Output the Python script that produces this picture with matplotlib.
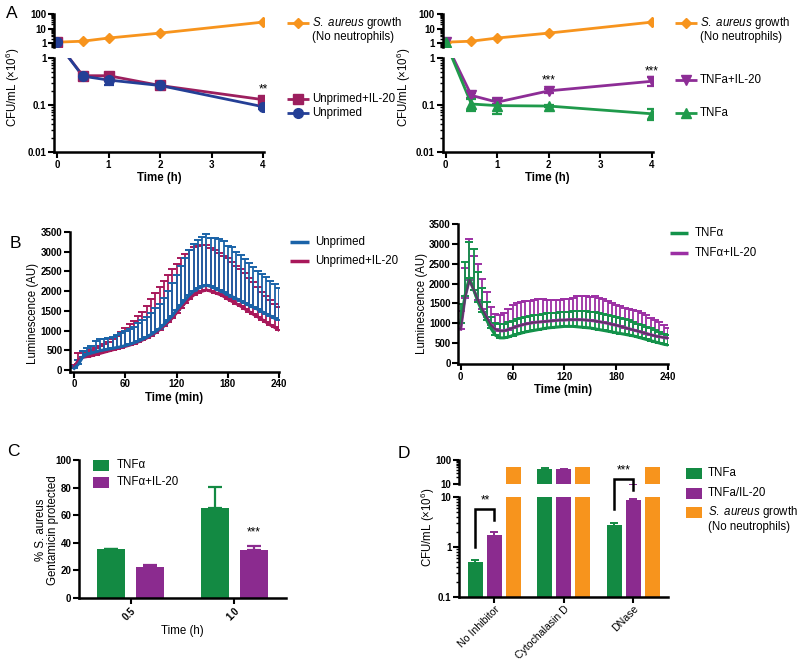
import numpy as np
import matplotlib
matplotlib.use('Agg')
import matplotlib.pyplot as plt
from matplotlib.lines import Line2D
from matplotlib.patches import Rectangle
from matplotlib.ticker import LogLocator, NullFormatter

plt.rcParams['font.family'] = ['Liberation Sans', 'DejaVu Sans']
plt.rcParams['mathtext.fontset'] = 'custom'
plt.rcParams['mathtext.rm'] = 'Liberation Sans'
plt.rcParams['mathtext.it'] = 'Liberation Sans:italic'
plt.rcParams['mathtext.bf'] = 'Liberation Sans:bold'

# ---------------- DATA ----------------
# Panel A (CFU/mL x10^6)
time_h = [0, 0.5, 1, 2, 4]
growth = [1.2, 1.4, 2.3, 5.0, 28.0]
unprimed_il20 = [1.2, 0.42, 0.42, 0.26, 0.13]
unprimed_il20_err = [0, 0.03, 0.05, 0.04, 0.02]
unprimed = [1.2, 0.41, 0.34, 0.26, 0.092]
unprimed_err = [0, 0.03, 0.08, 0.03, 0.008]
tnfa_il20 = [1.2, 0.16, 0.115, 0.20, 0.32]
tnfa_il20_err = [0, 0.02, 0.012, 0.02, 0.065]
tnfa = [1.2, 0.105, 0.097, 0.095, 0.065]
tnfa_err = [0, 0.032, 0.034, 0.006, 0.018]

# Panel B (luminescence, AU)
t_min = [0, 5, 10, 15, 20, 25, 30, 35, 40, 45, 50, 55, 60, 65, 70, 75, 80, 85,
         90, 95, 100, 105, 110, 115, 120, 125, 130, 135, 140, 145, 150, 155,
         160, 165, 170, 175, 180, 185, 190, 195, 200, 205, 210, 215, 220, 225,
         230, 235, 240]
lum_unprimed = [40, 150, 330, 400, 430, 460, 490, 510, 530, 550,
                570, 590, 620, 650, 690, 730, 780, 830, 900, 970,
                1050, 1150, 1260, 1380, 1520, 1650, 1780, 1900, 2000, 2070,
                2120, 2150, 2120, 2070, 2020, 1970, 1910, 1860, 1810, 1750,
                1700, 1640, 1590, 1540, 1480, 1420, 1370, 1310, 1280]
lum_unprimed_up = [100, 250, 480, 560, 620, 740, 790, 790, 810, 840,
                   880, 930, 980, 1040, 1100, 1180, 1260, 1350, 1450, 1560,
                   1680, 1830, 2000, 2200, 2400, 2640, 2850, 3050, 3200, 3300,
                   3380, 3450, 3360, 3340, 3320, 3280, 3150, 3120, 3000, 2920,
                   2820, 2720, 2620, 2520, 2440, 2350, 2260, 2170, 2080]
lum_unprimed_il20 = [80, 250, 320, 340, 360, 390, 420, 450, 480, 510,
                     540, 570, 600, 630, 670, 710, 760, 810, 870, 940,
                     1020, 1110, 1210, 1320, 1450, 1580, 1700, 1810, 1900, 1960,
                     2000, 2030, 2000, 1960, 1920, 1870, 1800, 1740, 1680, 1620,
                     1550, 1480, 1410, 1350, 1280, 1210, 1140, 1080, 1010]
lum_unprimed_il20_up = [120, 420, 470, 450, 500, 560, 620, 670, 720, 780,
                        860, 960, 1070, 1160, 1250, 1370, 1480, 1620, 1800, 1950,
                        2100, 2250, 2400, 2550, 2700, 2850, 2950, 3050, 3120, 3150,
                        3170, 3180, 3100, 3050, 2980, 2900, 2840, 2750, 2650, 2550,
                        2450, 2330, 2220, 2100, 1980, 1870, 1770, 1680, 1600]
lum_tnfa = [1000, 1700, 2150, 1850, 1540, 1290, 1080, 870, 700, 630,
            630, 650, 690, 720, 750, 780, 800, 820, 840, 860,
            880, 890, 900, 910, 920, 920, 920, 910, 900, 890,
            880, 860, 840, 820, 800, 780, 760, 740, 720, 700,
            680, 650, 620, 590, 560, 530, 500, 470, 450]
lum_tnfa_up = [1480, 2550, 3050, 2870, 2300, 1880, 1540, 1170, 1000, 980,
               990, 1020, 1060, 1100, 1130, 1160, 1180, 1200, 1220, 1240,
               1250, 1260, 1270, 1280, 1290, 1290, 1300, 1300, 1300, 1300,
               1290, 1280, 1260, 1240, 1220, 1190, 1160, 1130, 1100, 1070,
               1030, 990, 950, 910, 870, 830, 790, 740, 700]
lum_tnfa_il20 = [850, 1650, 2100, 1850, 1580, 1350, 1150, 950, 850, 810,
                 810, 840, 880, 920, 950, 980, 1000, 1020, 1030, 1040,
                 1050, 1060, 1070, 1080, 1080, 1090, 1090, 1090, 1090, 1080,
                 1070, 1060, 1040, 1020, 1000, 970, 950, 920, 890, 860,
                 830, 800, 770, 740, 710, 680, 660, 640, 620]
lum_tnfa_il20_up = [1300, 2400, 3120, 2700, 2500, 2110, 1800, 1400, 1230, 1200,
                    1250, 1350, 1450, 1500, 1530, 1550, 1560, 1580, 1600, 1600,
                    1590, 1580, 1580, 1590, 1600, 1620, 1640, 1680, 1690, 1680,
                    1670, 1680, 1640, 1600, 1560, 1510, 1470, 1430, 1390, 1360,
                    1330, 1300, 1250, 1200, 1140, 1080, 1020, 950, 870]

# Panel C (% gentamicin protected)
c_times = ['0.5', '1.0']
c_tnfa = [35.1, 64.9]
c_tnfa_err = [0.6, 15.4]
c_tnfa_il20 = [22.4, 34.6]
c_tnfa_il20_err = [1.3, 2.9]

# Panel D (CFU/mL x10^6)
d_groups = ['No Inhibitor', 'Cytochalasin D', 'DNase']
d_tnfa = [0.49, 42.5, 2.75]
d_tnfa_err = [0.05, 3.0, 0.3]
d_tnfa_il20 = [1.75, 41.5, 8.7]
d_tnfa_il20_err = [0.2, 1.0, 0.3]
d_growth = [53, 53, 53]

# ---------------- STYLE ----------------
ORANGE = '#f7941d'
CRIMSON = '#9c1f5e'
NAVY = '#243f96'
PURPLE = '#8d2d96'
GREEN = '#1f9a4b'
B_BLUE = '#1a63a8'
B_CRIMSON = '#a8185a'
B_GREEN = '#13924a'
B_PURPLE = '#9c2fa4'
BAR_GREEN = '#138a43'
BAR_PURPLE = '#8b2b8f'

W, H = 800, 664
fig = plt.figure(figsize=(8, 6.64), dpi=100)


def px_axes(l, t, r, b):
    return fig.add_axes([l / W, 1 - b / H, (r - l) / W, (b - t) / H])


def fx(x):
    return x / W


def fy(y):
    return 1 - y / H


def style(ax, show_x=True):
    for s in ['top', 'right']:
        ax.spines[s].set_visible(False)
    ax.spines['left'].set_linewidth(1.8)
    ax.spines['bottom'].set_linewidth(1.8)
    if not show_x:
        ax.spines['bottom'].set_visible(False)
        ax.tick_params(axis='x', which='both', bottom=False, labelbottom=False)
    ax.tick_params(which='major', direction='out', width=1.5, length=4, pad=1.5)
    ax.tick_params(which='minor', direction='out', width=1.0, length=2.2)


def log_minor(ax):
    ax.yaxis.set_minor_locator(LogLocator(base=10, subs=np.arange(2, 10)))
    ax.yaxis.set_minor_formatter(NullFormatter())


def bridge(ax_from, ax_to, x, y):
    d = ax_from.transData.transform((x, y))
    return ax_to.transData.inverted().transform(d)[1]


def leg_line(x1, x2, y, color, marker=None, ms=6, lw=2):
    fig.add_artist(Line2D([fx(x1), fx(x2)], [fy(y), fy(y)], transform=fig.transFigure,
                          color=color, lw=lw, solid_capstyle='butt'))
    if marker:
        fig.add_artist(Line2D([fx((x1 + x2) / 2)], [fy(y)], transform=fig.transFigure,
                              color=color, marker=marker, ms=ms, ls='none'))


def leg_patch(x1, x2, y, h, color):
    fig.add_artist(Rectangle((fx(x1), fy(y + h / 2)), (x2 - x1) / W, h / H,
                             transform=fig.transFigure, color=color, lw=0))


TICK_FS = 7
LAB_FS = 8.3
LEG_FS = 8.3
STAR_FS = 8.5
SAUREUS = r'$\it{S.\ aureus}$ growth'


# ---------------- Panel A ----------------
def panel_A(l, r, series, stars):
    ax_t = px_axes(l, 14, r, 46.6)
    ax_b = px_axes(l, 58, r, 152)
    for ax in (ax_t, ax_b):
        ax.set_yscale('log')
        ax.set_xlim(-0.06, 4.02)
        log_minor(ax)
    style(ax_t, show_x=False)
    style(ax_b)
    ax_t.set_ylim(0.6, 100)
    ax_b.set_ylim(0.01, 1)
    ax_t.set_yticks([1, 10, 100], ['1', '10', '100'], fontweight='bold', fontsize=TICK_FS)
    ax_b.set_yticks([0.01, 0.1, 1], ['0.01', '0.1', '1'], fontweight='bold', fontsize=TICK_FS)
    ax_b.set_xticks([0, 1, 2, 3, 4], ['0', '1', '2', '3', '4'], fontweight='bold', fontsize=TICK_FS)
    ax_b.set_xlabel('Time (h)', fontweight='bold', fontsize=LAB_FS, labelpad=2)

    ax_t.plot(time_h, growth, '-', color=ORANGE, lw=2, marker='D', ms=5)
    for vals, err, col, mk, ms in series:
        # only the starting point lies in the upper (broken) segment
        ax_t.plot(time_h[:1], vals[:1], ls='none', marker=mk, ms=ms, color=col)
        yl = list(vals)
        yl[0] = bridge(ax_t, ax_b, time_h[0], vals[0])
        ax_b.plot(time_h, yl, '-', color=col, lw=2)
        ax_b.errorbar(time_h[1:], vals[1:], yerr=err[1:], fmt=mk, ms=ms, color=col,
                      capsize=3.5, elinewidth=1.6, capthick=1.6)
    for xi, yi, txt in stars:
        ax_b.text(xi, yi, txt, ha='center', va='center', fontsize=STAR_FS)
    return ax_t, ax_b


panel_A(54, 264,
        [(unprimed_il20, unprimed_il20_err, CRIMSON, 's', 7),
         (unprimed, unprimed_err, NAVY, 'o', 7)],
        [(4, (unprimed_il20[4] + unprimed_il20_err[4]) * 1.45, '**')])
panel_A(442.5, 653,
        [(tnfa_il20, tnfa_il20_err, PURPLE, 'v', 7.5),
         (tnfa, tnfa_err, GREEN, '^', 7.5)],
        [(2, (tnfa_il20[3] + tnfa_il20_err[3]) * 1.5, '***'),
         (4, (tnfa_il20[4] + tnfa_il20_err[4]) * 1.35, '***')])

ylab_A = 'CFU/mL (×10$^{6}$)'
fig.text(fx(13), fy(87), ylab_A, rotation=90, ha='center', va='center', fontsize=LAB_FS)
fig.text(fx(404), fy(87), ylab_A, rotation=90, ha='center', va='center', fontsize=LAB_FS)

# legends A
leg_line(287, 309, 23, ORANGE, 'D', 5)
fig.text(fx(312), fy(23), SAUREUS, va='center', fontsize=LEG_FS)
fig.text(fx(312), fy(37), '(No neutrophils)', va='center', fontsize=LEG_FS)
leg_line(287, 309, 99, CRIMSON, 's', 7)
fig.text(fx(312), fy(99), 'Unprimed+IL-20', va='center', fontsize=LEG_FS)
leg_line(287, 309, 113, NAVY, 'o', 7)
fig.text(fx(312), fy(113), 'Unprimed', va='center', fontsize=LEG_FS)

leg_line(675, 697, 23, ORANGE, 'D', 5)
fig.text(fx(700), fy(23), SAUREUS, va='center', fontsize=LEG_FS)
fig.text(fx(700), fy(37), '(No neutrophils)', va='center', fontsize=LEG_FS)
leg_line(675, 697, 80, PURPLE, 'v', 7.5)
fig.text(fx(700), fy(80), 'TNFa+IL-20', va='center', fontsize=LEG_FS)
leg_line(675, 697, 113, GREEN, '^', 7.5)
fig.text(fx(700), fy(113), 'TNFa', va='center', fontsize=LEG_FS)


# ---------------- Panel B ----------------
def panel_B(l, t, r, b, xlo, ylo, series, ylab_x, ylab_y):
    ax = px_axes(l, t, r, b)
    style(ax)
    ax.set_xlim(xlo, 240)
    ax.set_ylim(ylo, 3500)
    tm = np.array(t_min)
    for mean, up, col in series:
        mean = np.array(mean)
        up = np.array(up)
        ax.errorbar(tm, mean, yerr=[np.zeros_like(mean), up - mean], color=col, lw=2.2,
                    elinewidth=1.3, capsize=2.6, capthick=1.4)
    ax.set_xticks([0, 60, 120, 180, 240], ['0', '60', '120', '180', '240'],
                  fontweight='bold', fontsize=TICK_FS)
    ax.set_yticks(range(0, 3501, 500), [str(v) for v in range(0, 3501, 500)],
                  fontweight='bold', fontsize=TICK_FS)
    ax.set_xlabel('Time (min)', fontweight='bold', fontsize=LAB_FS, labelpad=2)
    fig.text(fx(ylab_x), fy(ylab_y), 'Luminescence (AU)', rotation=90, ha='center',
             va='center', fontsize=LAB_FS)
    return ax


panel_B(70, 232, 279, 371.5, -4.9, -38,
        [(lum_unprimed_il20, lum_unprimed_il20_up, B_CRIMSON),
         (lum_unprimed, lum_unprimed_up, B_BLUE)], 33, 313)
axB2 = panel_B(458.3, 224.3, 668, 364, -2.8, -30,
               [(lum_tnfa_il20, lum_tnfa_il20_up, B_PURPLE),
                (lum_tnfa, lum_tnfa_up, B_GREEN)], 422, 303)
axB2.plot(t_min, lum_tnfa_il20, color='#5e3566', lw=1.3, zorder=5)

leg_line(290, 309, 242, B_BLUE, lw=2.5)
fig.text(fx(315), fy(242), 'Unprimed', va='center', fontsize=LEG_FS)
leg_line(290, 309, 261, B_CRIMSON, lw=2.5)
fig.text(fx(315), fy(261), 'Unprimed+IL-20', va='center', fontsize=LEG_FS)
leg_line(670, 688, 233, B_GREEN, lw=2.5)
fig.text(fx(695), fy(233), 'TNFα', va='center', fontsize=LEG_FS)
leg_line(670, 688, 253, B_PURPLE, lw=2.5)
fig.text(fx(695), fy(253), 'TNFα+IL-20', va='center', fontsize=LEG_FS)

# ---------------- Panel C ----------------
axC = px_axes(79, 460, 286, 597.7)
style(axC)
axC.set_xlim(-0.5, 1.5)
axC.set_ylim(0, 100)
xc = np.arange(len(c_times))
axC.bar(xc - 0.19, c_tnfa, 0.27, color=BAR_GREEN,
        yerr=[np.zeros(2), c_tnfa_err], error_kw=dict(ecolor=BAR_GREEN, elinewidth=1.6,
                                                      capsize=5, capthick=1.6))
axC.bar(xc + 0.19, c_tnfa_il20, 0.27, color=BAR_PURPLE,
        yerr=[np.zeros(2), c_tnfa_il20_err], error_kw=dict(ecolor=BAR_PURPLE, elinewidth=1.6,
                                                           capsize=5, capthick=1.6))
axC.text(1 + 0.19, c_tnfa_il20[1] + c_tnfa_il20_err[1] + 10, '***', ha='center',
         va='center', fontsize=STAR_FS)
axC.set_xticks(xc, c_times, fontweight='bold', fontsize=TICK_FS, rotation=45,
               ha='right', rotation_mode='anchor')
axC.set_yticks(range(0, 101, 20), [str(v) for v in range(0, 101, 20)],
               fontweight='bold', fontsize=TICK_FS)
axC.set_xlabel('Time (h)', fontsize=LAB_FS, labelpad=2)
fig.text(fx(47), fy(530), '% S. aureus\nGentamicin protected', rotation=90, ha='center',
         va='center', fontsize=LAB_FS, linespacing=1.1)
leg_patch(93, 109, 465, 11, BAR_GREEN)
fig.text(fx(117), fy(465), 'TNFα', va='center', fontsize=LEG_FS)
leg_patch(93, 109, 482, 11, BAR_PURPLE)
fig.text(fx(117), fy(482), 'TNFα+IL-20', va='center', fontsize=LEG_FS)

# ---------------- Panel D ----------------
axDt = px_axes(459, 460, 668, 484.3)
axDb = px_axes(459, 497, 668, 597)
for ax in (axDt, axDb):
    ax.set_yscale('log')
    ax.set_xlim(-0.51, 2.5)
    log_minor(ax)
style(axDt, show_x=False)
style(axDb)
axDt.set_ylim(10, 100)
axDb.set_ylim(0.1, 10)
xd = np.arange(len(d_groups))
floor = 1e-3
bw = 0.216
for ax in (axDt, axDb):
    ax.bar(xd - 0.273, np.array(d_tnfa) - floor, bw, bottom=floor, color=BAR_GREEN,
           yerr=d_tnfa_err, error_kw=dict(ecolor=BAR_GREEN, elinewidth=1.4, capsize=3,
                                          capthick=1.4))
    ax.bar(xd, np.array(d_tnfa_il20) - floor, bw, bottom=floor, color=BAR_PURPLE,
           yerr=d_tnfa_il20_err, error_kw=dict(ecolor=BAR_PURPLE, elinewidth=1.4,
                                               capsize=3, capthick=1.4))
    ax.bar(xd + 0.273, np.array(d_growth) - floor, bw, bottom=floor, color=ORANGE)
axDt.set_yticks([10, 100], ['10', '100'], fontweight='bold', fontsize=TICK_FS)
axDb.set_yticks([0.1, 1, 10], ['0.1', '1', '10'], fontweight='bold', fontsize=TICK_FS)
axDb.set_xticks(xd, d_groups, fontsize=7.6, rotation=45, ha='right',
                rotation_mode='anchor')
axDb.tick_params(axis='x', pad=1)
fig.text(fx(428), fy(527), ylab_A, rotation=90, ha='center', va='center', fontsize=LAB_FS)

# significance brackets (annotation positions)
sig_pairs = [(0, 1.0, 5.8, 3.5, '**'), (2, 5.8, 23.0, 13.8, '***')]
for gi, y_left, y_top, y_right, txt in sig_pairs:
    xl, xr = xd[gi] - 0.273, xd[gi]
    axDb.plot([xl, xl, xr, xr], [y_left, y_top, y_top, y_right], color='black', lw=1.8,
              clip_on=False, solid_joinstyle='miter')
    axDb.text((xl + xr) / 2, y_top * 1.45, txt, ha='center', va='center', fontsize=STAR_FS,
              clip_on=False)

leg_patch(686, 702, 473, 11, BAR_GREEN)
fig.text(fx(708), fy(473), 'TNFa', va='center', fontsize=LEG_FS)
leg_patch(686, 702, 493, 11, BAR_PURPLE)
fig.text(fx(708), fy(493), 'TNFa/IL-20', va='center', fontsize=LEG_FS)
leg_patch(686, 702, 512, 11, ORANGE)
fig.text(fx(708), fy(512), SAUREUS, va='center', fontsize=LEG_FS)
fig.text(fx(708), fy(527), '(No neutrophils)', va='center', fontsize=LEG_FS)

# panel letters
for letter, x, y in [('A', 12, 14), ('B', 15, 244), ('C', 13, 451), ('D', 404, 454)]:
    fig.text(fx(x), fy(y), letter, ha='center', va='center', fontsize=12.5)

fig.savefig('out.png', dpi=100)
